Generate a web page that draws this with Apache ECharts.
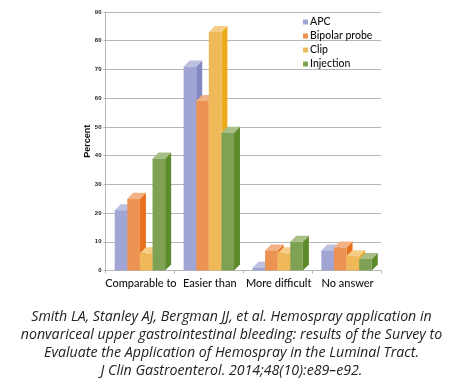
<!DOCTYPE html>
<html><head><meta charset="utf-8">
<style>html,body{margin:0;padding:0;background:#fff}#c{width:464px;height:391px}</style>
<script src="https://cdn.jsdelivr.net/npm/echarts@6/dist/echarts.min.js"></script>
</head><body><div id="c"></div>
<script>
const categories = ['Comparable to', 'Easier than', 'More difficult', 'No answer'];
const seriesNames = ['APC', 'Bipolar probe', 'Clip', 'Injection'];
const apc = [21, 71, 1, 7];
const bipolar = [25, 59, 7, 8];
const clip = [6, 83, 6, 5];
const injection = [39, 48, 10, 4];
const allValues = [apc, bipolar, clip, injection];
const caption = [
  'Smith LA, Stanley AJ, Bergman JJ, et al. Hemospray application in',
  'nonvariceal upper gastrointestinal bleeding: results of the Survey to',
  'Evaluate the Application of Hemospray in the Luminal Tract.',
  'J Clin Gastroenterol. 2014;48(10):e89–e92.'
];
const palette = [
  {front:'#a0a5d3', top:'#bdc0e0', side:'#8489c4'},
  {front:'#ec9252', top:'#f2b286', side:'#e8711f'},
  {front:'#efb959', top:'#f5cf87', side:'#edaa1a'},
  {front:'#7fa154', top:'#a8bf88', side:'#5d8a2a'}
];
const DEPTH = 6;
function render3d(si){
  return function(params, api){
    const p = api.coord([api.value(0), api.value(1)]);
    const base = api.coord([api.value(0), 0]);
    const w = api.size([1,0])[0] * 0.183;
    const x0 = p[0] + (si - 2) * w, x1 = x0 + w;
    const yT = p[1], yB = base[1], d = DEPTH, c = palette[si];
    return {type:'group', children:[
      {type:'polygon', shape:{points:[[x1,yT],[x1+d,yT-d],[x1+d,yB-d],[x1,yB]]}, style:{fill:c.side}},
      {type:'polygon', shape:{points:[[x0,yT],[x0+d,yT-d],[x1+d,yT-d],[x1,yT]]}, style:{fill:c.top}},
      {type:'rect', shape:{x:x0, y:yT, width:w, height:yB-yT}, style:{fill:c.front}}
    ]};
  };
}
const chart = echarts.init(document.getElementById('c'), null, {renderer:'canvas'});
chart.setOption({
  animation:false,
  backgroundColor:'#fff',
  color: palette.map(c=>c.front),
  title:{
    text: caption.join('\n'), left:231.5, top:308, textAlign:'center', padding:0,
    textStyle:{fontFamily:'Open Sans', fontStyle:'italic', fontWeight:'normal', fontSize:14.2, lineHeight:18, color:'#222'}
  },
  legend:{
    orient:'vertical', left:303, top:16, padding:0, itemWidth:5, itemHeight:5, itemGap:2,
    icon:'rect', data:seriesNames, selectedMode:false,
    textStyle:{fontFamily:'Lato', fontSize:10.5, color:'#111', padding:[0,0,0,-3], fontWeight:500, lineHeight:12}
  },
  grid:{left:105.5, right:83, top:12, bottom:120.5, containLabel:false},
  xAxis:{
    type:'category', data:categories,
    axisLine:{lineStyle:{color:'#b5b5b5', width:1}},
    axisTick:{show:true, alignWithLabel:false, length:3, lineStyle:{color:'#b5b5b5'}},
    axisLabel:{fontFamily:'Lato', fontSize:11, color:'#111', margin:7, interval:0, fontWeight:500, padding:[0,0,0,2]}
  },
  yAxis:{
    type:'value', min:0, max:90, interval:10, name:'Percent', nameLocation:'middle', nameGap:13.5, nameMoveOverlap:false,
    nameTextStyle:{fontFamily:'Liberation Sans', fontWeight:'bold', fontSize:9, color:'#111'},
    axisLine:{show:true, lineStyle:{color:'#b5b5b5'}},
    axisTick:{show:true, length:2, lineStyle:{color:'#b5b5b5'}},
    axisLabel:{fontFamily:'Liberation Sans', fontWeight:'bold', fontSize:6, color:'#222', margin:4},
    splitLine:{show:true, lineStyle:{color:'#b5b5b5', width:1}}
  },
  series: seriesNames.map((name,si)=>({
    name, type:'custom', coordinateSystem:'cartesian2d',
    renderItem: render3d(si), z:2+si,
    encode:{x:0,y:1},
    data: allValues[si].map((v,i)=>[i,v])
  }))
});
</script></body></html>
